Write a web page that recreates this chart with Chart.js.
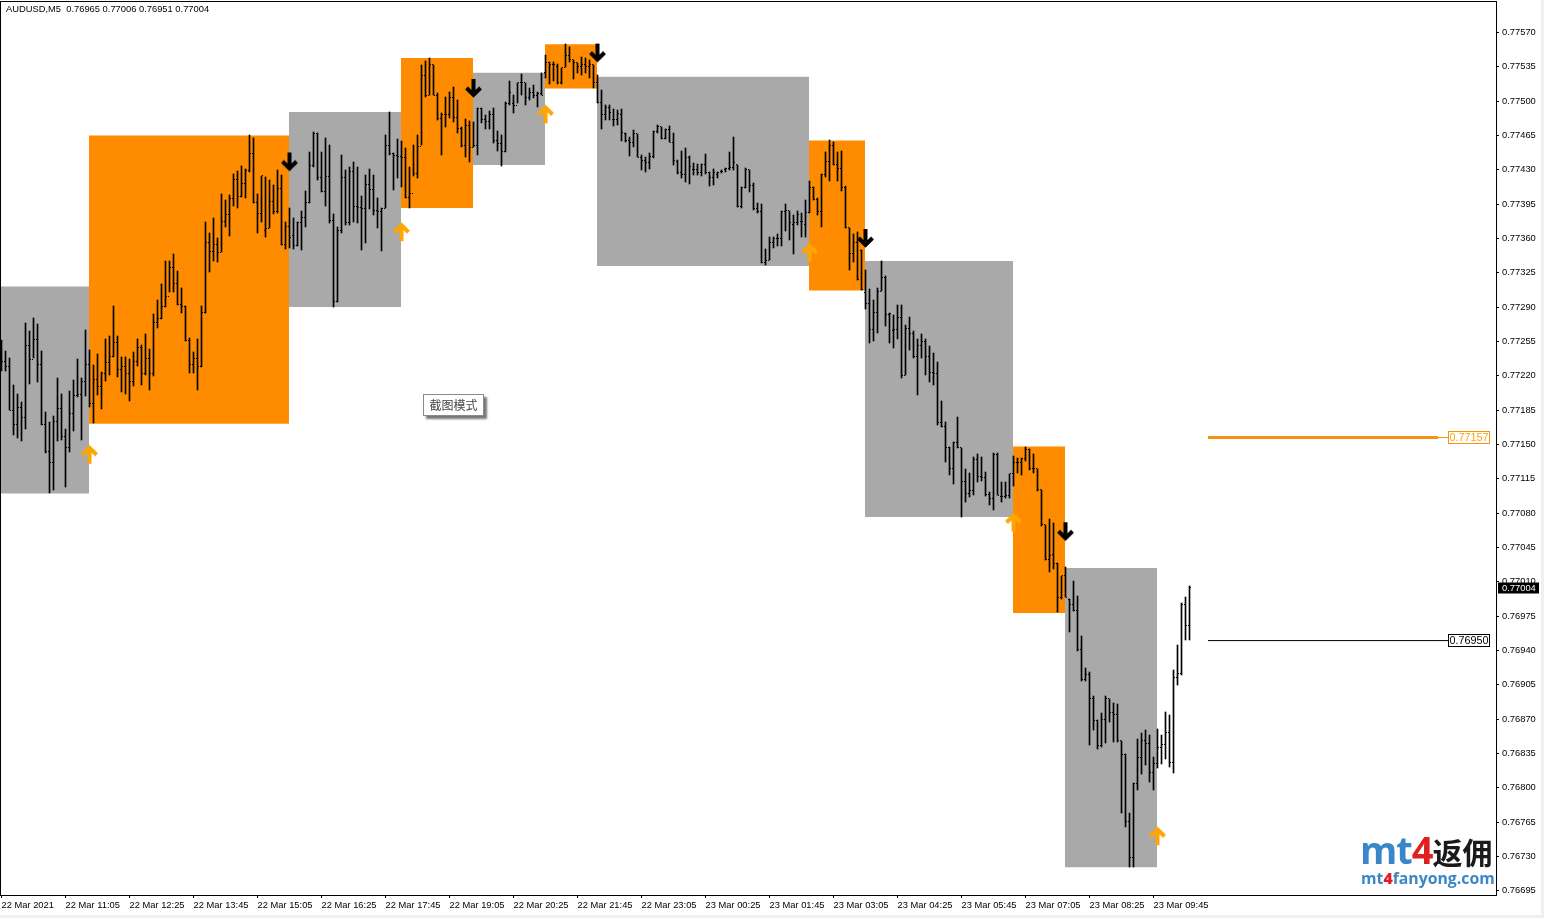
<!DOCTYPE html>
<html lang="en">
<head>
  <meta charset="UTF-8">
  <title>AUDUSD,M5</title>
  <script src="https://cdn.jsdelivr.net/npm/chart.js"></script>
  <style>
    html, body { margin: 0; padding: 0; background: #f0f0f0; }
    #wrap { position: relative; width: 1544px; height: 918px; overflow: hidden; }
    canvas { position: absolute; left: 0; top: 0; background: #fff; }
    .button-label {
      position: absolute; left: 423px; top: 394px; width: 59px; height: 20px;
      background: #fff; border: 1px solid #8a8a8a; box-shadow: 3px 3px 2px #777;
      font: 12px "Noto Sans CJK SC"; color: #444; text-align: center; line-height: 20px;
    }
    .logo-big { position: absolute; left: 1360px; top: 829px; white-space: nowrap; font: 700 38px/40px "Open Sans"; letter-spacing: -1px; color: #3a87c8; }
    .logo-big b { color: #e02020; font-weight: 700; }
    .logo-big i { font: 700 30px/40px "Noto Sans CJK SC"; letter-spacing: 0; color: #1a1a1a; }
    .logo-small { position: absolute; left: 1361px; top: 869px; white-space: nowrap; font: 700 15.8px/18px "Open Sans"; color: #3a87c8; }
    .logo-small b { color: #e02020; }
  </style>
</head>
<body>
<div id="wrap">
  <canvas id="chart" width="1541" height="915"></canvas>
  <div class="button-label">截图模式</div>
  <div class="logo-big">mt<b>4</b><i>返佣</i></div>
  <div class="logo-small">mt<b>4</b>fanyong.com</div>
</div>
<script>
  // prices below are in points (0.00001)
  const opens = [
    77243,77235,77229,77185,77170,77188,77177,77251,77237,77257,
    77232,77170,77143,77132,77173,77187,77158,77147,77182,77200,
    77201,77214,77231,77192,77216,77209,77222,77234,77240,77254,
    77226,77229,77222,77214,77235,77249,77222,77238,77222,77274,
    77278,77291,77301,77330,77314,77293,77291,77256,77232,77238,
    77229,77285,77356,77347,77354,77346,77377,77384,77401,77420,
    77403,77416,77429,77447,77397,77385,77368,77370,77398,77387,
    77411,77354,77372,77363,77353,77376,77381,77397,77434,77467,
    77422,77408,77423,77378,77296,77368,77422,77376,77428,77393,
    77392,77391,77415,77410,77389,77388,77391,77455,77447,77445,
    77444,77443,77402,77406,77426,77454,77526,77506,77537,77506,
    77482,77486,77486,77504,77483,77472,77455,77475,77453,77455,
    77493,77481,77479,77486,77460,77457,77449,77498,77498,77496,
    77519,77519,77504,77509,77506,77508,77529,77539,77537,77535,
    77519,77534,77547,77542,77539,77535,77537,77535,77537,77519,
    77499,77486,77494,77481,77481,77486,77467,77460,77458,77467,
    77443,77440,77437,77444,77469,77474,77462,77471,77458,77438,
    77427,77425,77443,77430,77430,77427,77435,77427,77422,77425,
    77428,77430,77431,77432,77435,77393,77412,77430,77414,77391,
    77387,77336,77338,77356,77360,77360,77387,77389,77374,77376,
    77377,77374,77386,77412,77400,77388,77425,77438,77455,77435,
    77431,77412,77371,77345,77356,77348,77305,77294,77267,77285,
    77306,77320,77282,77266,77267,77279,77220,77268,77263,77240,
    77251,77255,77240,77223,77222,77172,77168,77147,77125,77152,
    77147,77112,77100,77103,77135,77117,77116,77099,77095,77140,
    77097,77097,77098,77120,77132,77132,77136,77145,77125,77125,
    77104,77068,77033,77038,77029,76994,77016,76992,76987,76981,
    76941,76910,76915,76891,76869,76843,76870,76891,76877,76875,
    76848,76834,76766,76729,76804,76831,76848,76845,76815,76825,
    76841,76844,76856,76826,76912,76916,76987,76965
  ];
  const highs = [
    77256,77245,77238,77211,77201,77193,77274,77266,77279,77273,
    77245,77183,77173,77179,77218,77201,77166,77204,77216,77237,
    77218,77267,77246,77231,77242,77224,77258,77261,77291,77261,
    77239,77239,77237,77244,77258,77251,77263,77247,77283,77297,
    77314,77337,77337,77344,77327,77309,77291,77259,77244,77257,
    77291,77377,77366,77381,77360,77405,77399,77404,77426,77429,
    77434,77431,77465,77462,77405,77424,77423,77420,77415,77430,
    77425,77377,77391,77381,77377,77388,77408,77448,77469,77468,
    77448,77462,77455,77385,77372,77445,77430,77433,77438,77433,
    77403,77425,77431,77425,77401,77391,77465,77489,77447,77461,
    77459,77452,77433,77455,77465,77537,77541,77544,77537,77508,
    77488,77504,77509,77514,77501,77474,77482,77480,77479,77493,
    77493,77486,77490,77493,77470,77466,77499,77521,77506,77519,
    77528,77519,77513,77516,77509,77529,77547,77540,77540,77538,
    77534,77558,77555,77542,77539,77545,77544,77542,77537,77527,
    77511,77496,77496,77492,77491,77492,77468,77463,77471,77467,
    77445,77443,77447,77470,77476,77474,77472,77475,77468,77440,
    77449,77452,77444,77437,77436,77436,77446,77428,77431,77428,
    77430,77432,77448,77463,77435,77412,77432,77430,77417,77396,
    77395,77349,77361,77362,77365,77388,77395,77388,77384,77388,
    77386,77399,77419,77412,77401,77426,77448,77460,77458,77448,
    77449,77414,77371,77365,77367,77348,77328,77308,77297,77310,
    77337,77322,77284,77282,77292,77292,77272,77280,77266,77257,
    77263,77258,77250,77243,77234,77194,77173,77147,77152,77178,
    77146,77125,77121,77137,77140,77137,77122,77102,77141,77141,
    77112,77112,77120,77138,77136,77136,77147,77145,77140,77125,
    77104,77068,77074,77070,77029,77016,77025,76992,77011,76995,
    76955,76922,76918,76894,76869,76876,76893,76890,76886,76885,
    76848,76834,76774,76805,76850,76856,76859,76854,76831,76860,
    76854,76877,76874,76920,76945,76988,76994,77006
  ];
  const lows = [
    77225,77225,77185,77160,77157,77153,77166,77212,77238,77214,
    77170,77141,77100,77104,77153,77155,77107,77142,77164,77198,
    77155,77199,77188,77172,77200,77186,77215,77221,77239,77219,
    77203,77201,77194,77210,77230,77211,77221,77206,77220,77269,
    77278,77290,77305,77305,77292,77284,77255,77223,77223,77206,
    77229,77284,77326,77337,77336,77346,77372,77363,77393,77391,
    77402,77401,77428,77396,77366,77377,77361,77371,77385,77386,
    77353,77349,77350,77349,77352,77348,77372,77396,77433,77420,
    77407,77393,77376,77290,77295,77366,77374,77374,77377,77376,
    77348,77355,77390,77384,77371,77347,77391,77445,77409,77422,
    77412,77401,77391,77424,77422,77455,77504,77506,77506,77481,
    77445,77474,77483,77479,77468,77453,77443,77438,77453,77445,
    77478,77472,77472,77457,77449,77434,77448,77496,77488,77498,
    77506,77496,77501,77503,77494,77506,77524,77518,77521,77517,
    77517,77535,77540,77523,77529,77527,77529,77524,77513,77498,
    77472,77481,77481,77475,77476,77459,77458,77444,77453,77443,
    77430,77428,77431,77442,77468,77461,77461,77458,77435,77426,
    77422,77418,77416,77425,77425,77424,77426,77414,77415,77422,
    77427,77428,77430,77430,77392,77391,77411,77407,77389,77386,
    77335,77333,77338,77350,77352,77352,77368,77358,77344,77374,
    77361,77362,77386,77399,77384,77372,77423,77419,77435,77419,
    77408,77371,77328,77336,77318,77307,77288,77253,77255,77264,
    77306,77271,77253,77248,77257,77218,77221,77246,77238,77200,
    77238,77221,77214,77211,77170,77168,77132,77119,77110,77146,
    77076,77091,77096,77098,77112,77113,77097,77088,77083,77098,
    77091,77095,77095,77108,77121,77119,77133,77124,77121,77103,
    77067,77032,77020,77023,76979,76992,76994,76959,76980,76939,
    76909,76909,76844,76859,76839,76841,76846,76867,76847,76847,
    76774,76760,76719,76719,76798,76814,76823,76806,76798,76820,
    76824,76829,76821,76815,76905,76915,76951,76951
  ];
  const closes = [
    77235,77229,77185,77170,77188,77177,77251,77237,77257,77232,
    77170,77143,77132,77173,77187,77158,77147,77182,77200,77201,
    77214,77231,77192,77216,77209,77222,77234,77240,77254,77226,
    77229,77222,77214,77235,77249,77222,77238,77222,77274,77278,
    77291,77301,77330,77314,77293,77291,77256,77232,77238,77229,
    77285,77356,77347,77354,77346,77377,77384,77401,77420,77403,
    77416,77429,77447,77397,77385,77424,77370,77398,77387,77411,
    77354,77372,77361,77353,77376,77381,77397,77434,77467,77422,
    77408,77423,77378,77296,77368,77422,77376,77428,77393,77392,
    77391,77415,77410,77389,77388,77391,77455,77447,77445,77444,
    77443,77402,77406,77426,77454,77526,77506,77537,77506,77482,
    77486,77486,77504,77483,77472,77455,77475,77453,77455,77493,
    77481,77479,77486,77460,77457,77449,77498,77509,77496,77519,
    77519,77504,77509,77506,77508,77506,77539,77537,77537,77519,
    77534,77547,77542,77539,77535,77537,77535,77537,77519,77499,
    77486,77494,77488,77481,77487,77468,77460,77458,77467,77443,
    77440,77437,77444,77469,77474,77462,77471,77458,77440,77427,
    77425,77443,77433,77430,77427,77435,77427,77422,77427,77427,
    77428,77431,77432,77437,77393,77412,77430,77414,77391,77387,
    77336,77338,77356,77360,77360,77387,77389,77376,77376,77384,
    77377,77386,77412,77400,77388,77425,77438,77455,77435,77431,
    77412,77371,77345,77356,77318,77308,77294,77267,77285,77306,
    77320,77282,77284,77267,77279,77220,77268,77263,77240,77251,
    77255,77240,77223,77222,77172,77168,77147,77125,77152,77147,
    77112,77100,77103,77135,77117,77116,77099,77095,77140,77098,
    77097,77098,77120,77132,77132,77136,77145,77125,77125,77104,
    77068,77033,77037,77029,76994,77016,76994,76987,76981,76941,
    76910,76915,76891,76869,76843,76870,76891,76877,76875,76848,
    76834,76766,76729,76804,76831,76848,76845,76815,76825,76841,
    76844,76856,76826,76912,76916,76987,76965,77004
  ];

  // supply / demand zones: first bar, last bar, top and bottom price
  const zoneStart  = [0, 22, 72, 100, 118, 136, 149, 202, 216, 253, 266];
  const zoneEnd    = [22, 72, 100, 118, 136, 149, 202, 216, 253, 266, 289];
  const zoneTop    = [77311, 77465, 77489, 77544, 77529, 77558, 77525, 77460, 77337, 77148, 77024];
  const zoneBottom = [77100, 77171, 77290, 77391, 77435, 77513, 77332, 77307, 77076, 76978, 76719];
  const zoneColors = ['#A9A9A9', '#FF8C00', '#A9A9A9', '#FF8C00', '#A9A9A9', '#FF8C00', '#A9A9A9', '#FF8C00', '#A9A9A9', '#FF8C00', '#A9A9A9'];

  const upArrowBars    = [22, 100, 136, 202, 253, 289];
  const upArrowPrices  = [77140, 77367, 77487, 77346, 77071, 76751];
  const downArrowBars   = [72, 118, 149, 216, 266];
  const downArrowPrices = [77438, 77513, 77549, 77360, 77061];

  const levelPrices = [77157, 76950];
  const levelLabels = ['0.77157', '0.76950'];
  const levelColors = ['#F59314', '#000000'];
  const levelWidths = [3, 1];

  const priceTicks = [0.77570, 0.77535, 0.77500, 0.77465, 0.77430, 0.77395, 0.77360, 0.77325, 0.77290,
    0.77255, 0.77220, 0.77185, 0.77150, 0.77115, 0.77080, 0.77045, 0.77010, 0.76975, 0.76940, 0.76905,
    0.76870, 0.76835, 0.76800, 0.76765, 0.76730, 0.76695];
  const timeLabels = ['22 Mar 2021', '22 Mar 11:05', '22 Mar 12:25', '22 Mar 13:45', '22 Mar 15:05', '22 Mar 16:25',
    '22 Mar 17:45', '22 Mar 19:05', '22 Mar 20:25', '22 Mar 21:45', '22 Mar 23:05', '23 Mar 00:25', '23 Mar 01:45',
    '23 Mar 03:05', '23 Mar 04:25', '23 Mar 05:45', '23 Mar 07:05', '23 Mar 08:25', '23 Mar 09:45'];
  const barsPerLabel = 16;

  const headerText = 'AUDUSD,M5  0.76965 0.77006 0.76951 0.77004';
  const lastPrice = 77004;

  const tickFont = '9.35px "Liberation Sans"';

  function pr(points) {
    return points / 100000;
  }

  function makeArrow(color, up) {
    const c = document.createElement('canvas');
    c.width = 19;
    c.height = 21;
    const g = c.getContext('2d');
    g.strokeStyle = color;
    g.lineWidth = 4;
    if (!up) {
      g.translate(0, 21);
      g.scale(1, -1);
    }
    g.beginPath();
    g.moveTo(9.5, 20);
    g.lineTo(9.5, 4);
    g.moveTo(2.5, 11);
    g.lineTo(9.5, 4);
    g.lineTo(16.5, 11);
    g.stroke();
    return c;
  }

  function makeDash() {
    const c = document.createElement('canvas');
    c.width = 1;
    c.height = 1;
    const g = c.getContext('2d');
    g.fillStyle = '#000';
    g.fillRect(0, 0, 1, 1);
    return c;
  }

  const datasets = [];

  // open and close ticks
  const dash = makeDash();
  datasets.push({
    type: 'scatter', order: 1, pointStyle: dash,
    data: opens.map((v, i) => ({ x: i - 0.25, y: pr(v) }))
  });
  datasets.push({
    type: 'scatter', order: 1, pointStyle: dash,
    data: closes.map((v, i) => ({ x: i + 0.25, y: pr(v) }))
  });

  // high-low stems
  datasets.push({
    type: 'bar', order: 2, barThickness: 1, backgroundColor: '#000', borderWidth: 0,
    data: highs.map((h, i) => ({ x: i, y: [pr(lows[i]), pr(h)] }))
  });

  // arrows sit above the bars
  datasets.push({
    type: 'scatter', order: 0, pointStyle: makeArrow('#FFA500', true),
    data: upArrowBars.map((b, i) => ({ x: b, y: pr(upArrowPrices[i]) }))
  });
  datasets.push({
    type: 'scatter', order: 0, pointStyle: makeArrow('#000', false),
    data: downArrowBars.map((b, i) => ({ x: b, y: pr(downArrowPrices[i]) }))
  });

  // zones, left edge shifted half a pixel onto the pixel grid
  zoneStart.forEach((start, i) => {
    datasets.push({
      type: 'line', order: 5, borderWidth: 0, pointRadius: 0, tension: 0,
      backgroundColor: zoneColors[i],
      fill: { value: pr(zoneBottom[i]) },
      data: [{ x: start - 0.125, y: pr(zoneTop[i]) }, { x: zoneEnd[i] - 0.125, y: pr(zoneTop[i]) }]
    });
  });

  // right hand price levels
  levelPrices.forEach((p, i) => {
    datasets.push({
      type: 'line', order: 3, borderColor: levelColors[i], borderWidth: levelWidths[i], pointRadius: 0,
      data: [{ x: 301.625, y: pr(p) }, { x: 359.125, y: pr(p) }]
    });
    datasets.push({
      type: 'line', order: 3, borderColor: levelColors[i], borderWidth: 1, pointRadius: 0,
      data: [{ x: 359.125, y: pr(p) }, { x: 361.625, y: pr(p) }]
    });
  });

  // keep the 1px ticks and stems on whole pixels, otherwise they smear over two rows
  const snapPlugin = {
    id: 'snap',
    afterDatasetsUpdate(chart) {
      [0, 1].forEach(d => {
        chart.getDatasetMeta(d).data.forEach(pt => { pt.y = Math.floor(pt.y) + 0.5; });
      });
      chart.getDatasetMeta(2).data.forEach(bar => {
        bar.y = Math.round(bar.y);
        bar.base = Math.round(bar.base);
      });
    }
  };

  const terminalPlugin = {
    id: 'terminal',
    afterDraw(chart) {
      const { ctx, chartArea: a, scales } = chart;
      ctx.save();
      // frame
      ctx.strokeStyle = '#000';
      ctx.lineWidth = 1;
      ctx.strokeRect(a.left - 0.5, a.top - 0.5, a.right - a.left + 1, a.bottom - a.top + 1);

      ctx.font = tickFont;
      ctx.textBaseline = 'middle';
      ctx.textAlign = 'left';
      ctx.fillStyle = '#000';
      ctx.fillText(headerText, 6, 9.5);

      // level labels
      levelPrices.forEach((p, i) => {
        const y = Math.round(scales.y.getPixelForValue(pr(p)));
        ctx.fillStyle = '#fff';
        ctx.fillRect(1448, y - 6, 42, 12);
        ctx.strokeStyle = i === 0 ? '#F59314' : '#000';
        ctx.strokeRect(1448.5, y - 6.5, 41, 12);
        ctx.fillStyle = i === 0 ? '#FFA500' : '#000';
        ctx.font = '10.8px "Liberation Sans"';
        ctx.fillText(levelLabels[i], 1449.5, y + 0.5);
      });

      // current price marker
      const y = Math.round(scales.y.getPixelForValue(pr(lastPrice)));
      ctx.font = tickFont;
      ctx.fillStyle = '#000';
      ctx.fillRect(1498, y - 5.5, 41, 11);
      ctx.fillStyle = '#fff';
      ctx.fillText(pr(lastPrice).toFixed(5), 1502, y + 0.5);
      ctx.restore();
    }
  };

  new Chart(document.getElementById('chart'), {
    type: 'bar',
    data: { datasets: datasets },
    plugins: [snapPlugin, terminalPlugin],
    options: {
      responsive: false,
      animation: false,
      events: [],
      layout: { autoPadding: false, padding: { left: 1, top: 2, right: 0, bottom: 0 } },
      plugins: { legend: { display: false }, tooltip: { enabled: false }, title: { display: false } },
      scales: {
        x: {
          type: 'linear',
          position: 'bottom',
          offset: false,
          min: -0.125,
          max: 373.625,
          afterFit(scale) {
            scale.height = 20;
            scale.paddingLeft = 0;
            scale.paddingRight = 0;
          },
          afterBuildTicks(scale) {
            scale.ticks = timeLabels.map((t, i) => ({ value: i * barsPerLabel }));
          },
          border: { display: false },
          grid: { offset: false, drawOnChartArea: false, tickColor: '#000', tickLength: 3, tickWidth: 1 },
          ticks: {
            autoSkip: false, maxRotation: 0, minRotation: 0, align: 'start', color: '#000', padding: 2,
            font: { family: 'Liberation Sans', size: 9.35 },
            callback: value => timeLabels[Math.round(value / barsPerLabel)]
          }
        },
        y: {
          type: 'linear',
          position: 'right',
          min: 0.766906,
          max: 0.776011,
          afterFit(scale) {
            scale.width = 45;
            scale.paddingTop = 0;
            scale.paddingBottom = 0;
          },
          afterBuildTicks(scale) {
            scale.ticks = priceTicks.map(v => ({ value: v }));
          },
          border: { display: false },
          grid: { drawOnChartArea: false, tickColor: '#000', tickLength: 3, tickWidth: 1 },
          ticks: {
            autoSkip: false, color: '#000', padding: 3,
            font: { family: 'Liberation Sans', size: 9.35 },
            callback: value => value.toFixed(5)
          }
        }
      }
    }
  });
</script>
</body>
</html>
